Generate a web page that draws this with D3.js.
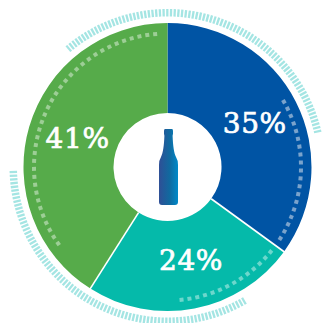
<!DOCTYPE html>
<html><head><meta charset="utf-8">
<script src="https://cdn.jsdelivr.net/npm/d3@7"></script>
<style>html,body{margin:0;padding:0;background:#fff}svg{display:block}</style>
</head><body><svg id="c" width="325" height="323"></svg>
<script>
const labels = ["35%","24%","41%"];
const values = [35,24,41];
const colors = ["#0054a4","#05baaa","#56ab4a"];
const labelRadius = [98,96,94.5];
const labelTurn = [0,-3.4,1.7];
const dotArcs = [[60.7,122.5],[129.5,176.8],[235,356]];
const dotColors = ["#7aa3cc","#6cd7cc","#9dce96"];
const tickArcs = [[-39.8,78],[150.3,268.5]];
const cx=167.5, cy=167, R=144, r=54;
const rad = Math.PI/180;
const svg = d3.select("#c");
const defs = svg.append("defs");
const grad = defs.append("linearGradient").attr("id","b").attr("x1","0").attr("x2","1").attr("y1","0").attr("y2","0");
grad.append("stop").attr("offset","0").attr("stop-color","#2f4f96");
grad.append("stop").attr("offset","0.55").attr("stop-color","#11699f");
grad.append("stop").attr("offset","1").attr("stop-color","#0089c9");
const g = svg.append("g").attr("transform",`translate(${cx},${cy})`);
const pie = d3.pie().sort(null).value(d=>d)(values);
const arc = d3.arc().innerRadius(r).outerRadius(R);
g.selectAll("path.s").data(pie).join("path").attr("class","s").attr("d",arc).attr("fill",(d,i)=>colors[i]);
g.selectAll("line.sep").data(pie.slice(0,2)).join("line").attr("class","sep")
 .attr("x1",d=>r*Math.sin(d.endAngle)).attr("y1",d=>-r*Math.cos(d.endAngle))
 .attr("x2",d=>(R+1)*Math.sin(d.endAngle)).attr("y2",d=>-(R+1)*Math.cos(d.endAngle))
 .attr("stroke","#fff").attr("stroke-width",1.6);
const tickA=[]; tickArcs.forEach(([a,b])=>{d3.range(a,b+0.01,1.37).forEach(v=>tickA.push(v));});
g.selectAll("line.t").data(tickA).join("line").attr("class","t")
 .attr("x1",d=>150.5*Math.sin(d*rad)).attr("y1",d=>-150.5*Math.cos(d*rad))
 .attr("x2",d=>158*Math.sin(d*rad)).attr("y2",d=>-158*Math.cos(d*rad))
 .attr("stroke","#a4e5e3").attr("stroke-width",2.3);
const dotA=[]; dotArcs.forEach(([a,b],i)=>{d3.range(a,b+0.01,3.42).forEach(v=>dotA.push({v,i}));});
g.selectAll("rect.d").data(dotA).join("rect").attr("class","d")
 .attr("x",-2).attr("y",-2).attr("width",4).attr("height",4)
 .attr("fill",d=>dotColors[d.i])
 .attr("transform",d=>`rotate(${d.v}) translate(0,-133.5)`);
const bottle = d3.path();
bottle.moveTo(165,129);bottle.lineTo(172,129);bottle.quadraticCurveTo(173,129,173,131);bottle.lineTo(173,134);
bottle.quadraticCurveTo(172.6,135,172.6,136);bottle.bezierCurveTo(173,146,174,153,176,157);
bottle.quadraticCurveTo(178,160,178,165);bottle.lineTo(178,202);bottle.quadraticCurveTo(178,205,175,205);
bottle.lineTo(162,205);bottle.quadraticCurveTo(159,205,159,202);bottle.lineTo(159,165);
bottle.quadraticCurveTo(159,160,161,157);bottle.bezierCurveTo(163,153,164,146,164.4,136);
bottle.quadraticCurveTo(164.4,135,164,134);bottle.lineTo(164,131);bottle.quadraticCurveTo(164,129,165,129);bottle.closePath();
svg.append("path").attr("d",bottle.toString()).attr("fill","url(#b)");
g.selectAll("text").data(pie).join("text")
 .attr("x",(d,i)=>labelRadius[i]*Math.sin((d.startAngle+d.endAngle)/2+labelTurn[i]*rad))
 .attr("y",(d,i)=>-labelRadius[i]*Math.cos((d.startAngle+d.endAngle)/2+labelTurn[i]*rad))
 .attr("dy","0.36em").attr("text-anchor","middle")
 .attr("font-family","DejaVu Serif").attr("font-size",28).attr("letter-spacing",0.6)
 .attr("stroke","#fff").attr("stroke-width",0.7)
 .attr("fill","#fff").text((d,i)=>labels[i]);
</script></body></html>
